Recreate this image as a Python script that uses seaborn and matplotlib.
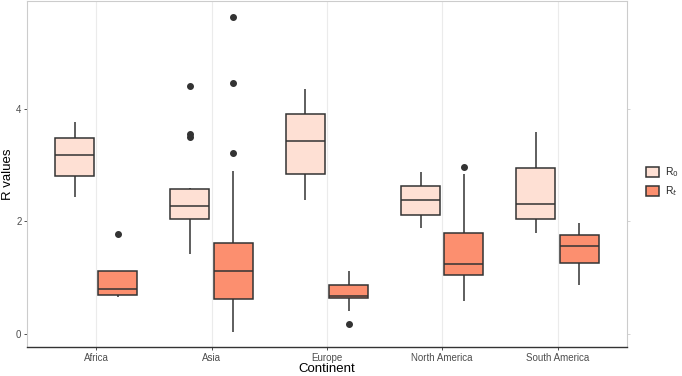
import matplotlib
matplotlib.use("Agg")
import matplotlib.pyplot as plt
import seaborn as sns
import pandas as pd

continents = ["Africa", "Asia", "Europe", "North America", "South America"]
series = ["R0", "Rt"]
series_labels = ["R$_0$", "R$_t$"]
colors = ["#FEE0D4", "#FC8F6F"]

# per-country values (chosen to reproduce the box statistics)
africa_r0 = [2.43, 2.80, 3.18, 3.48, 3.77]
africa_rt = [0.66, 0.70, 0.80, 1.11, 1.77]
asia_r0 = [1.42, 1.65, 1.85, 1.98, 2.05, 2.10, 2.18, 2.24, 2.28,
           2.35, 2.44, 2.52, 2.58, 2.60, 3.50, 3.55, 4.40]
asia_rt = [0.04, 0.25, 0.40, 0.52, 0.62, 0.75, 0.90, 1.02, 1.12,
           1.25, 1.40, 1.52, 1.61, 2.89, 3.21, 4.46, 5.63]
europe_r0 = [2.38, 2.84, 3.43, 3.90, 4.34]
europe_rt = [0.17, 0.41, 0.64, 0.66, 0.68, 0.75, 0.87, 0.95, 1.12]
namerica_r0 = [1.88, 2.12, 2.38, 2.63, 2.87]
namerica_rt = [0.59, 0.90, 1.05, 1.15, 1.24, 1.50, 1.80, 2.84, 2.97]
samerica_r0 = [1.80, 2.05, 2.30, 2.94, 3.58]
samerica_rt = [0.87, 1.26, 1.56, 1.75, 1.97]

groups = {
    ("Africa", "R0"): africa_r0, ("Africa", "Rt"): africa_rt,
    ("Asia", "R0"): asia_r0, ("Asia", "Rt"): asia_rt,
    ("Europe", "R0"): europe_r0, ("Europe", "Rt"): europe_rt,
    ("North America", "R0"): namerica_r0, ("North America", "Rt"): namerica_rt,
    ("South America", "R0"): samerica_r0, ("South America", "Rt"): samerica_rt,
}
rows = [(c, s, v) for (c, s), vals in groups.items() for v in vals]
df = pd.DataFrame(rows, columns=["Continent", "Type", "R values"])

sns.set_style("white")
plt.rcParams["font.family"] = ["Liberation Sans", "DejaVu Sans"]

fig = plt.figure(figsize=(6.82, 3.76), dpi=100)
ax = fig.add_axes([0.0396, 0.0771, 0.8794, 0.9203])

for i in range(len(continents)):
    ax.axvline(i, color="#EBEBEB", lw=0.8, zorder=0)

sns.boxplot(data=df, x="Continent", y="R values", hue="Type",
            order=continents, hue_order=series, palette=colors,
            width=0.75, gap=0.1, linewidth=1.1, linecolor="#333333",
            whis=1.5, saturation=1, showcaps=False,
            flierprops=dict(marker="o", markersize=4, markerfacecolor="#333333",
                            markeredgecolor="#333333"),
            ax=ax)

ax.set_xlim(-0.6, 4.6)
ax.set_ylim(-0.23, 5.91)
ax.set_yticks([0, 2, 4])
ax.tick_params(axis="both", labelsize=7, labelcolor="#4D4D4D", color="#333333",
               length=2.5, width=0.6, direction="out", pad=1.5,
               left=True, bottom=True)
ax.set_xlabel("Continent", fontsize=9.5, color="black", va="center")
ax.set_ylabel("R values", fontsize=9.5, color="black", va="center")
ax.xaxis.set_label_coords(0.5, -0.064)
ax.yaxis.set_label_coords(-0.032, 0.5)

for side in ["top", "right", "left"]:
    ax.spines[side].set_color("#CCCCCC")
    ax.spines[side].set_linewidth(0.8)
ax.spines["bottom"].set_color("#333333")
ax.spines["bottom"].set_linewidth(1.0)

ax2 = ax.secondary_yaxis("right")
ax2.set_yticks([0, 2, 4])
ax2.tick_params(length=2.5, width=0.6, color="#CCCCCC", labelright=False)
ax2.spines["right"].set_visible(False)

handles, _ = ax.get_legend_handles_labels()
ax.legend(handles, series_labels, loc="center left", bbox_to_anchor=(1.025, 0.477),
          frameon=False, fontsize=7.5, handlelength=1.3, handleheight=1.0,
          labelspacing=0.5, handletextpad=0.5, borderaxespad=0)

fig.savefig("out.png", dpi=100)
